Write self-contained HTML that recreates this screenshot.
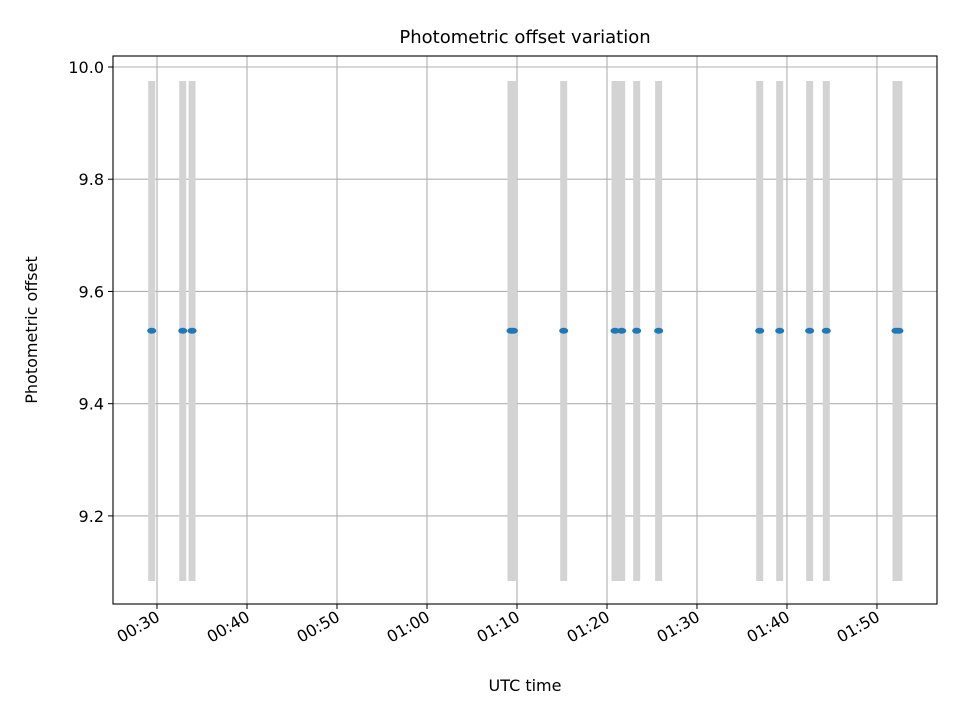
<!DOCTYPE html>
<html><head><meta charset="utf-8"><style>
body{margin:0;background:#fff;}
svg{font-family:"DejaVu Sans","Liberation Sans",sans-serif;}
</style></head><body>
<svg id="chart" width="960" height="720" viewBox="0 0 960 720" xmlns="http://www.w3.org/2000/svg">
<rect width="960" height="720" fill="#fff"/>
<text x="525" y="43" text-anchor="middle" font-size="18" fill="#000">Photometric offset variation</text>
<g id="grid"></g>
<g id="bars"></g>
<g id="pts"></g>
<g id="axes"></g>
<text x="525" y="691" text-anchor="middle" font-size="16">UTC time</text>
<text transform="translate(37,330) rotate(-90)" text-anchor="middle" font-size="16">Photometric offset</text>
</svg>
<script>
// times in minutes after 00:00 UTC
const times=[29.41,32.86,33.89,69.33,69.61,75.19,80.89,81.63,83.3,85.74,96.97,99.19,102.52,104.37,112.11,112.44];
const offsets=[9.53,9.53,9.53,9.53,9.53,9.53,9.53,9.53,9.53,9.53,9.53,9.53,9.53,9.53,9.53,9.53];
const errLow=[9.084,9.084,9.084,9.084,9.084,9.084,9.084,9.084,9.084,9.084,9.084,9.084,9.084,9.084,9.084,9.084];
const errHigh=[9.975,9.975,9.975,9.975,9.975,9.975,9.975,9.975,9.975,9.975,9.975,9.975,9.975,9.975,9.975,9.975];
const xTicks=[30,40,50,60,70,80,90,100,110];
const xTickLabels=["00:30","00:40","00:50","01:00","01:10","01:20","01:30","01:40","01:50"];
const yTicks=[9.2,9.4,9.6,9.8,10.0];
const yTickLabels=["9.2","9.4","9.6","9.8","10.0"];
const L=113,R=937,T=56,B=604;
const xMin=25.11,xMax=116.67,yMin=9.043,yMax=10.0196;
const X=v=>L+(v-xMin)/(xMax-xMin)*(R-L);
const Y=v=>B-(v-yMin)/(yMax-yMin)*(B-T);
const NS="http://www.w3.org/2000/svg";
function mk(tag,parent,attrs){const e=document.createElementNS(NS,tag);for(const k in attrs)e.setAttribute(k,attrs[k]);parent.appendChild(e);return e;}
const grid=document.getElementById('grid'),bars=document.getElementById('bars'),pts=document.getElementById('pts'),axes=document.getElementById('axes');
xTicks.forEach((t,i)=>{
  const g=mk('line',grid,{x1:X(t),x2:X(t),y1:T,y2:B,stroke:'#b0b0b0','stroke-width':1.1});
  
  
  const tk=mk('line',axes,{x1:X(t),x2:X(t),y1:B,y2:B+5,stroke:'#000','stroke-width':1});
  
  
  const tx=mk('text',axes,{x:X(t)+4,y:B+16,'text-anchor':'end','font-size':16,transform:`rotate(-30 ${X(t)+4} ${B+16})`});
  tx.textContent=xTickLabels[i];
  
  
});
yTicks.forEach((t,i)=>{
  const g=mk('line',grid,{x1:L,x2:R,y1:Y(t),y2:Y(t),stroke:'#b0b0b0','stroke-width':1.1});
  
  
  const tk=mk('line',axes,{x1:L-5,x2:L,y1:Y(t),y2:Y(t),stroke:'#000','stroke-width':1});
  
  
  const tx=mk('text',axes,{x:L-9,y:Y(t)+6,'text-anchor':'end','font-size':16});
  tx.textContent=yTickLabels[i];
  
  
});
const frame=mk('rect',axes,{x:L,y:T,width:R-L,height:B-T,fill:'none',stroke:'#000','stroke-width':1.1});


times.forEach((t,i)=>{
  const b=mk('line',bars,{x1:X(t),x2:X(t),y1:Y(errHigh[i]),y2:Y(errLow[i]),stroke:'#d3d3d3','stroke-width':7});
  
  
  const p=mk('ellipse',pts,{cx:X(t),cy:Y(offsets[i]),rx:4.5,ry:3,fill:'#1f77b4'});
  
  
});
</script>
</body></html>
